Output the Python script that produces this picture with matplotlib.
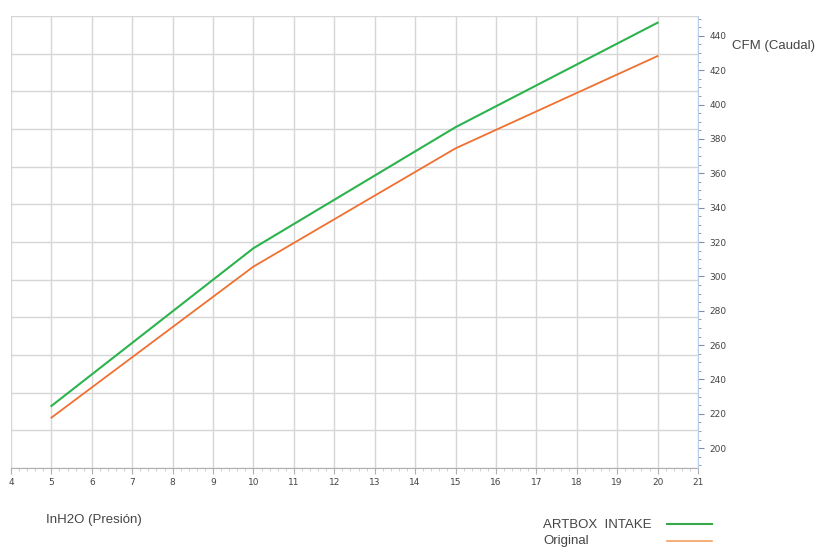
import matplotlib
matplotlib.use("Agg")
import matplotlib.pyplot as plt
from matplotlib.ticker import MultipleLocator
from matplotlib.lines import Line2D

# Data
pressure = [5, 10, 15, 20]
artbox = [224.6, 316.4, 386.8, 447.6]
original = [217.8, 305.7, 374.5, 428.2]
series_names = ["ARTBOX  INTAKE", "Original"]
x_label = "InH2O (Presión)"
y_label = "CFM (Caudal)"

W, H = 819, 560
fig = plt.figure(figsize=(W / 100, H / 100), dpi=100)
L, R, T, B = 11, 698, 16, 468
ax = fig.add_axes([L / W, 1 - B / H, (R - L) / W, (B - T) / H])

grid_c = "#d6d6d6"
# background grid axis
ax.set_xlim(4, 21)
ax.set_ylim(0, 12)
ax.set_yticks(range(13))
ax.set_xticks(range(4, 22))
ax.grid(True, color=grid_c, linewidth=1.0)
ax.tick_params(axis="y", length=0, labelleft=False)
for s in ["left", "right", "top"]:
    ax.spines[s].set_visible(False)
ax.spines["bottom"].set_color("#b0b0b0")
ax.xaxis.set_minor_locator(MultipleLocator(0.2))
ax.tick_params(axis="x", which="major", length=4, color="#b0b0b0",
               labelsize=6.5, labelcolor="#444444", pad=3)
ax.tick_params(axis="x", which="minor", length=2, color="#c8c8c8")

ax2 = ax.twinx()
ax2.set_ylim(188.5, 451.5)
ax2.yaxis.set_major_locator(MultipleLocator(20))
ax2.yaxis.set_minor_locator(MultipleLocator(5))
for s in ["left", "top", "bottom"]:
    ax2.spines[s].set_visible(False)
ax2.spines["right"].set_color("#b7cdea")
ax2.tick_params(axis="y", which="major", length=4, color="#7f8fab",
                labelsize=6.5, labelcolor="#444444", pad=4)
ax2.tick_params(axis="y", which="minor", length=2.5, color="#7f8fab")

green = "#2cb34e"
orange = "#f07030"
ax2.plot(pressure, artbox, color=green, linewidth=1.5)
ax2.plot(pressure, original, color=orange, linewidth=1.3)

tf = dict(fontsize=9.5, color="#444444", family=["Liberation Sans", "DejaVu Sans"],
          ha="left", va="center")
fig.text(732 / W, 1 - 46 / H, y_label, **tf)
fig.text(46 / W, 1 - 520 / H, x_label, **tf)
fig.text(543 / W, 1 - 525 / H, series_names[0], **tf)
fig.text(543 / W, 1 - 541 / H, series_names[1], **tf)
fig.add_artist(Line2D([667 / W, 712 / W], [1 - 524 / H, 1 - 524 / H],
                      color="#3aa84a", linewidth=1.5, transform=fig.transFigure))
fig.add_artist(Line2D([667 / W, 712 / W], [1 - 541 / H, 1 - 541 / H],
                      color="#f5a060", linewidth=1.2, transform=fig.transFigure))

fig.savefig("out.png", dpi=100)
